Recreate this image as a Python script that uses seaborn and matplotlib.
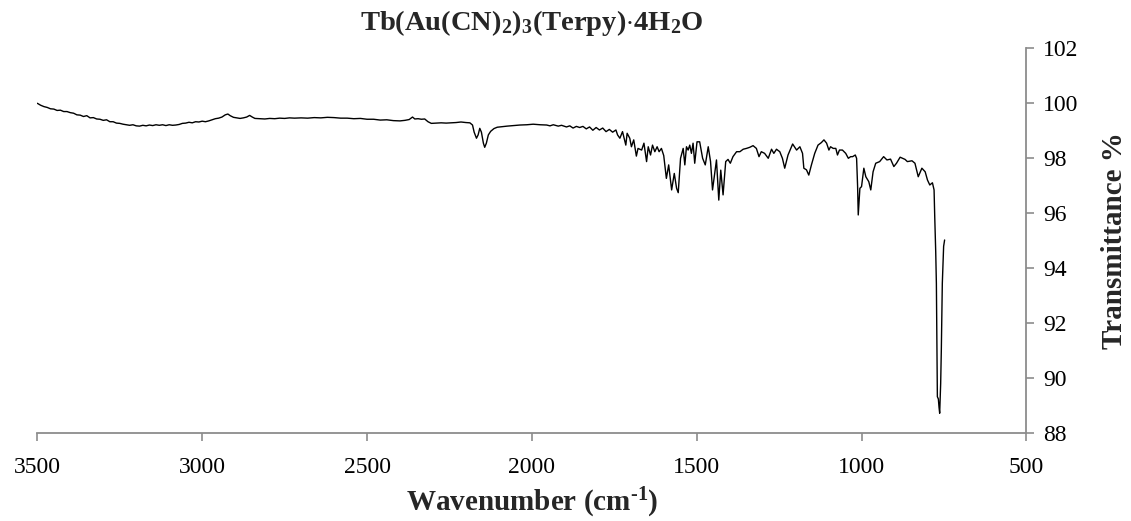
import matplotlib
matplotlib.use("Agg")
import matplotlib.pyplot as plt
import seaborn as sns
import pandas as pd

wavenumber = [
    3500, 3490, 3480, 3470, 3460, 3450, 3440, 3430, 3420, 3410, 3400, 3390, 3380, 3370, 3360,
    3350, 3340, 3330, 3320, 3310, 3300, 3290, 3280, 3270, 3260, 3250, 3240, 3230, 3220, 3210,
    3200, 3190, 3180, 3170, 3160, 3150, 3140, 3130, 3120, 3110, 3100, 3090, 3080, 3070, 3060,
    3050, 3040, 3030, 3020, 3010, 3000, 2990, 2980, 2970, 2960, 2950, 2940, 2930, 2922, 2915,
    2905, 2895, 2885, 2875, 2865, 2856, 2848, 2840, 2825, 2810, 2795, 2780, 2765, 2750, 2735,
    2720, 2700, 2680, 2660, 2640, 2620, 2600, 2580, 2560, 2540, 2520, 2500, 2480, 2460, 2440,
    2420, 2400, 2385, 2372, 2362, 2355, 2345, 2335, 2325, 2315, 2305, 2290, 2275, 2260, 2245,
    2230, 2215, 2200, 2188, 2180, 2175, 2168, 2163, 2158, 2153, 2147, 2143, 2138, 2132, 2125,
    2115, 2105, 2090, 2075, 2055, 2036, 2015, 1996, 1975, 1955, 1945, 1935, 1920, 1910, 1895,
    1885, 1875, 1865, 1855, 1845, 1835, 1825, 1815, 1805, 1795, 1785, 1775, 1765, 1755, 1745,
    1740, 1733, 1725, 1715, 1711, 1703, 1698, 1691, 1683, 1678, 1667, 1660, 1652, 1647, 1640,
    1634, 1627, 1620, 1614, 1607, 1600, 1592, 1585, 1576, 1568, 1561, 1556, 1549, 1541, 1536,
    1531, 1526, 1521, 1516, 1511, 1506, 1499, 1491, 1482, 1474, 1465, 1458, 1452, 1448, 1440,
    1433, 1427, 1420, 1412, 1405, 1398, 1390, 1379, 1369, 1359, 1349, 1339, 1329, 1319, 1311,
    1304, 1294, 1283, 1273, 1266, 1258, 1248, 1240, 1233, 1223, 1209, 1197, 1187, 1179, 1175,
    1167, 1160, 1152, 1142, 1132, 1122, 1114, 1106, 1099, 1094, 1086, 1078, 1073, 1067, 1058,
    1048, 1040, 1033, 1027, 1019, 1015, 1012, 1010, 1005, 1000, 993, 987, 978, 972, 965,
    957, 945, 933, 923, 912, 902, 894, 883, 868, 861, 847, 838, 828, 817, 807,
    800, 793, 785, 780, 778, 775, 773, 770, 767, 765, 763, 760, 758, 755, 751, 748,
]

transmittance = [
    100.00, 99.93, 99.88, 99.85, 99.80, 99.79, 99.74, 99.75, 99.70, 99.70, 99.66, 99.64, 99.58, 99.57, 99.52,
    99.55, 99.47, 99.48, 99.43, 99.42, 99.38, 99.40, 99.33, 99.33, 99.28, 99.27, 99.24, 99.22, 99.20, 99.22,
    99.18, 99.17, 99.20, 99.18, 99.21, 99.19, 99.22, 99.20, 99.22, 99.19, 99.22, 99.20, 99.21, 99.23, 99.27,
    99.28, 99.31, 99.29, 99.33, 99.32, 99.35, 99.33, 99.36, 99.40, 99.44, 99.46, 99.50, 99.58, 99.61, 99.55,
    99.49, 99.47, 99.45, 99.47, 99.50, 99.56, 99.50, 99.45, 99.44, 99.43, 99.45, 99.44, 99.46, 99.45, 99.47,
    99.46, 99.47, 99.46, 99.48, 99.47, 99.49, 99.48, 99.46, 99.46, 99.44, 99.45, 99.42, 99.42, 99.39, 99.40,
    99.37, 99.36, 99.38, 99.41, 99.50, 99.43, 99.44, 99.42, 99.43, 99.33, 99.27, 99.28, 99.29, 99.28, 99.29,
    99.30, 99.32, 99.30, 99.29, 99.21, 98.95, 98.73, 98.85, 99.09, 98.95, 98.55, 98.40, 98.55, 98.85, 98.98,
    99.08, 99.13, 99.15, 99.17, 99.19, 99.21, 99.22, 99.24, 99.22, 99.21, 99.18, 99.22, 99.17, 99.20, 99.14,
    99.18, 99.10, 99.16, 99.12, 99.16, 99.07, 99.14, 99.02, 99.12, 99.03, 99.10, 98.97, 99.05, 98.95, 99.03,
    98.85, 98.73, 98.97, 98.48, 98.91, 98.73, 98.42, 98.67, 98.08, 98.36, 98.30, 98.55, 97.88, 98.42, 98.12,
    98.48, 98.24, 98.42, 98.24, 98.36, 98.10, 97.27, 97.76, 96.85, 97.45, 96.91, 96.75, 98.00, 98.36, 97.76,
    98.42, 98.30, 98.48, 98.18, 98.55, 97.82, 98.60, 98.60, 98.00, 97.76, 98.42, 97.88, 96.85, 97.21, 97.94,
    96.48, 97.57, 96.67, 97.88, 97.96, 97.82, 98.06, 98.24, 98.24, 98.33, 98.36, 98.40, 98.46, 98.36, 98.06,
    98.24, 98.18, 98.00, 98.33, 98.18, 98.33, 98.24, 98.00, 97.64, 98.12, 98.52, 98.30, 98.42, 98.18, 97.64,
    97.58, 97.39, 97.76, 98.18, 98.48, 98.57, 98.67, 98.55, 98.30, 98.42, 98.36, 98.36, 98.12, 98.30, 98.30,
    98.18, 98.00, 98.06, 98.06, 98.12, 98.00, 97.00, 95.94, 96.91, 96.97, 97.64, 97.33, 97.15, 96.85, 97.51,
    97.82, 97.88, 98.06, 97.94, 97.97, 97.70, 97.82, 98.04, 97.96, 97.88, 97.91, 97.82, 97.33, 97.64, 97.51,
    97.21, 97.03, 97.11, 96.85, 95.88, 94.60, 93.45, 89.33, 89.25, 88.95, 88.73, 89.80, 91.03, 93.45, 94.80, 95.03,
]

x_ticks = [3500, 3000, 2500, 2000, 1500, 1000, 500]
y_ticks = [88, 90, 92, 94, 96, 98, 100, 102]

title_text = r"Tb(Au(CN)$_{2}$)$_{3}$(Terpy)$\cdot$4H$_{2}$O"
x_label = "Wavenumber (cm$^{\u2010 1}$)"
y_label = "Transmittance %"

sns.set_theme(style="white")
plt.rcParams["font.family"] = ["Liberation Serif", "DejaVu Serif"]
plt.rcParams["mathtext.fontset"] = "custom"
plt.rcParams["mathtext.rm"] = "Liberation Serif:bold"
plt.rcParams["mathtext.it"] = "Liberation Serif:bold"
plt.rcParams["mathtext.bf"] = "Liberation Serif:bold"

df = pd.DataFrame({"wn": wavenumber, "T": transmittance})

fig = plt.figure(figsize=(11.31, 5.21), dpi=100)
ax = fig.add_axes([0.033, 0.1683, 0.8745, 0.739])

sns.lineplot(data=df, x="wn", y="T", ax=ax, color="black", linewidth=1.0,
             estimator=None, sort=False)

ax.set_xlim(3500, 500)
ax.set_ylim(88, 102)
ax.set_xticks(x_ticks)
ax.set_yticks(y_ticks)

ax.yaxis.tick_right()
ax.yaxis.set_label_position("right")

for side in ["top", "left"]:
    ax.spines[side].set_visible(False)
for side in ["bottom", "right"]:
    ax.spines[side].set_visible(True)
    ax.spines[side].set_color("#8c8c8c")
    ax.spines[side].set_linewidth(1.3)

ax.tick_params(axis="both", which="major", direction="out", length=6, width=1.2,
               color="#8c8c8c", labelsize=17, labelcolor="black")
ax.tick_params(axis="x", pad=11, bottom=True)
ax.tick_params(axis="y", pad=6, right=True, left=False)

ax.set_xlabel(x_label, fontsize=21, fontweight="bold", labelpad=6)
ax.set_ylabel(y_label, fontsize=21, fontweight="bold", labelpad=16)
ax.set_title(title_text, fontsize=20.5, fontweight="bold", pad=13)
ax.grid(False)

fig.savefig("out.png", dpi=100)
